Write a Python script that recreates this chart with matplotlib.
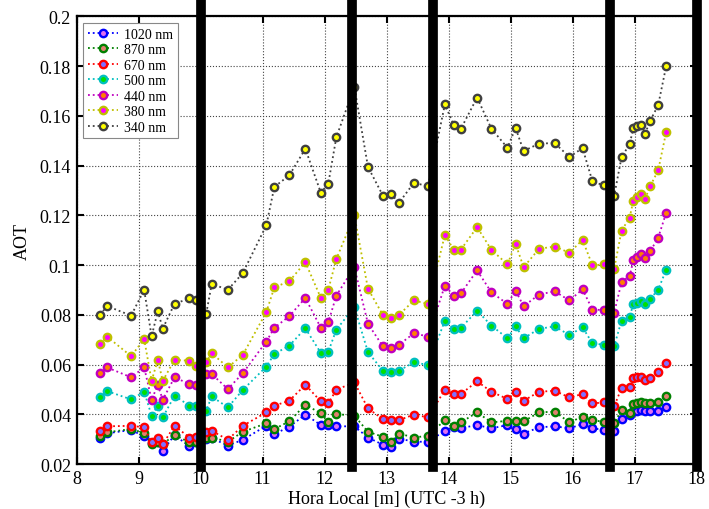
import matplotlib
matplotlib.use('Agg')
import matplotlib.pyplot as plt

# ── Data (hora local, AOT por comprimento de onda) ───────────
hours = [8.38, 8.49, 8.88, 9.09, 9.21, 9.31, 9.39, 9.58, 9.82, 9.92,
         10.09,
         10.18, 10.44, 10.68, 11.06, 11.19, 11.43, 11.69, 11.94, 12.06, 12.19,
         12.48,
         12.70, 12.94, 13.07, 13.20, 13.44, 13.67, 13.94, 14.08, 14.20, 14.46, 14.69,
         14.95, 15.08, 15.21, 15.46, 15.71, 15.95, 16.16, 16.32, 16.50, 16.67,
         16.79, 16.92, 16.98, 17.04, 17.11, 17.17, 17.25, 17.38, 17.51]

aot_1020 = [0.0305, 0.0324, 0.0337, 0.0312, 0.0285, 0.0287, 0.0254, 0.0317, 0.0271, 0.0287,
            0.0300,
            0.0305, 0.0274, 0.0298, 0.0354, 0.0321, 0.0350, 0.0399, 0.0357, 0.0357, 0.0352,
            0.0352,
            0.0307, 0.0278, 0.0267, 0.0303, 0.0290, 0.0290, 0.0334, 0.0348, 0.0345, 0.0357, 0.0344,
            0.0357, 0.0341, 0.0323, 0.0348, 0.0352, 0.0344, 0.0361, 0.0344, 0.0338, 0.0332,
            0.0381, 0.0397, 0.0415, 0.0415, 0.0417, 0.0415, 0.0412, 0.0415, 0.0431]
aot_870 = [0.0314, 0.0328, 0.0341, 0.0325, 0.0280, 0.0287, 0.0280, 0.0318, 0.0287, 0.0287,
           0.0307,
           0.0307, 0.0290, 0.0330, 0.0364, 0.0341, 0.0372, 0.0439, 0.0404, 0.0368, 0.0401,
           0.0395,
           0.0330, 0.0310, 0.0290, 0.0323, 0.0307, 0.0314, 0.0377, 0.0354, 0.0368, 0.0408, 0.0368,
           0.0374, 0.0374, 0.0372, 0.0408, 0.0411, 0.0368, 0.0391, 0.0377, 0.0370, 0.0364,
           0.0417, 0.0404, 0.0442, 0.0444, 0.0448, 0.0444, 0.0444, 0.0448, 0.0472]
aot_670 = [0.0334, 0.0352, 0.0354, 0.0348, 0.0287, 0.0307, 0.0280, 0.0354, 0.0307, 0.0310,
           0.0328,
           0.0334, 0.0298, 0.0354, 0.0408, 0.0435, 0.0455, 0.0519, 0.0452, 0.0444, 0.0499,
           0.0529,
           0.0424, 0.0381, 0.0378, 0.0377, 0.0399, 0.0388, 0.0499, 0.0482, 0.0482, 0.0533, 0.0491,
           0.0462, 0.0489, 0.0455, 0.0491, 0.0495, 0.0468, 0.0482, 0.0444, 0.0448, 0.0432,
           0.0506, 0.0509, 0.0545, 0.0549, 0.0552, 0.0538, 0.0546, 0.0569, 0.0605]
aot_500 = [0.0468, 0.0494, 0.0460, 0.0491, 0.0395, 0.0435, 0.0388, 0.0475, 0.0435, 0.0435,
           0.0415,
           0.0472, 0.0428, 0.0498, 0.0592, 0.0643, 0.0676, 0.0746, 0.0647, 0.0652, 0.0741,
           0.0831,
           0.0650, 0.0576, 0.0569, 0.0576, 0.0609, 0.0599, 0.0777, 0.0744, 0.0748, 0.0817, 0.0757,
           0.0706, 0.0754, 0.0706, 0.0744, 0.0754, 0.0719, 0.0750, 0.0686, 0.0680, 0.0674,
           0.0777, 0.0793, 0.0844, 0.0848, 0.0855, 0.0842, 0.0864, 0.0901, 0.0982]
aot_440 = [0.0566, 0.0589, 0.0549, 0.0589, 0.0459, 0.0518, 0.0459, 0.0549, 0.0522, 0.0518,
           0.0562,
           0.0562, 0.0502, 0.0565, 0.0693, 0.0748, 0.0795, 0.0868, 0.0748, 0.0770, 0.0878,
           0.0992,
           0.0764, 0.0674, 0.0667, 0.0680, 0.0726, 0.0713, 0.0918, 0.0878, 0.0887, 0.0979, 0.0891,
           0.0844, 0.0898, 0.0835, 0.0882, 0.0895, 0.0858, 0.0903, 0.0821, 0.0820, 0.0808,
           0.0932, 0.0956, 0.1019, 0.1032, 0.1046, 0.1028, 0.1055, 0.1110, 0.1211]
aot_380 = [0.0683, 0.0713, 0.0634, 0.0703, 0.0535, 0.0619, 0.0535, 0.0619, 0.0616, 0.0596,
           0.0609,
           0.0646, 0.0589, 0.0639, 0.0811, 0.0911, 0.0935, 0.1012, 0.0868, 0.0902, 0.1025,
           0.1200,
           0.0905, 0.0800, 0.0788, 0.0800, 0.0858, 0.0844, 0.1122, 0.1063, 0.1063, 0.1153, 0.1062,
           0.1003, 0.1086, 0.0992, 0.1066, 0.1075, 0.1050, 0.1102, 0.0999, 0.1003, 0.0985,
           0.1139, 0.1191, 0.1260, 0.1276, 0.1285, 0.1267, 0.1317, 0.1381, 0.1536]
aot_340 = [0.0800, 0.0836, 0.0797, 0.0901, 0.0714, 0.0815, 0.0745, 0.0845, 0.0866, 0.0860,
           0.0804,
           0.0925, 0.0901, 0.0968, 0.1160, 0.1315, 0.1361, 0.1468, 0.1291, 0.1328, 0.1515,
           0.1717,
           0.1395, 0.1280, 0.1287, 0.1251, 0.1331, 0.1318, 0.1647, 0.1565, 0.1549, 0.1674, 0.1549,
           0.1472, 0.1552, 0.1459, 0.1489, 0.1491, 0.1435, 0.1471, 0.1337, 0.1321, 0.1278,
           0.1435, 0.1486, 0.1552, 0.1558, 0.1565, 0.1529, 0.1580, 0.1643, 0.1801]

labels = ['1020 nm', '870 nm', '670 nm', '500 nm', '440 nm', '380 nm', '340 nm']
series = [aot_1020, aot_870, aot_670, aot_500, aot_440, aot_380, aot_340]

# linhas verticais grossas (horas marcadas)
cut_hours = [10.0, 12.45, 13.75, 16.6, 18.0]

# ── Cores (ordem clássica do MATLAB) ─────────────────────────
EDGE = ['#0000ff', '#008000', '#ff0000', '#00bfbf', '#bf00bf', '#bfbf00', '#404040']
FACE = ['#e070f0', '#e08070', '#8070ff', '#00e000', '#ff8000', '#ff00ff', '#ffff00']

plt.rcParams['font.family'] = ['Liberation Serif', 'DejaVu Serif']

fig = plt.figure(figsize=(7.09, 5.10), dpi=100)
ax = fig.add_axes([0.108, 0.088, 0.8745, 0.8777])

for vals, lab, ec, fc in zip(series, labels, EDGE, FACE):
    ax.plot(hours, vals, linestyle=':', linewidth=1.3, color=ec,
            marker='o', markersize=5.3, markeredgewidth=1.7,
            markeredgecolor=ec, markerfacecolor=fc, label=lab)

for h in cut_hours:
    ax.axvline(h, ymin=-0.007, ymax=1.04, color='black', linewidth=7,
               clip_on=False, zorder=10)

ax.set_xlim(8, 18)
ax.set_ylim(0.02, 0.2)
ax.set_xticks(range(8, 19))
yt = [0.02, 0.04, 0.06, 0.08, 0.1, 0.12, 0.14, 0.16, 0.18, 0.2]
ax.set_yticks(yt)
ax.set_yticklabels([f'{v:g}' for v in yt])
ax.tick_params(direction='in', length=5, width=1.5, labelsize=13,
               top=True, right=True, pad=4)
ax.grid(True, linestyle=':', color='#444444', linewidth=0.8)
for sp in ax.spines.values():
    sp.set_linewidth(1.6)

ax.set_xlabel('Hora Local [m] (UTC -3 h)', fontsize=13, labelpad=2)
ax.set_ylabel('AOT', fontsize=13, labelpad=6)

leg = ax.legend(loc='upper left', fontsize=10, fancybox=False, framealpha=1,
                edgecolor='#888888', handlelength=2.2, handletextpad=0.4,
                labelspacing=0.18, borderpad=0.35, borderaxespad=0.45,
                numpoints=1)
leg.get_frame().set_linewidth(0.8)

plt.savefig('out.png', dpi=100, facecolor='white')
